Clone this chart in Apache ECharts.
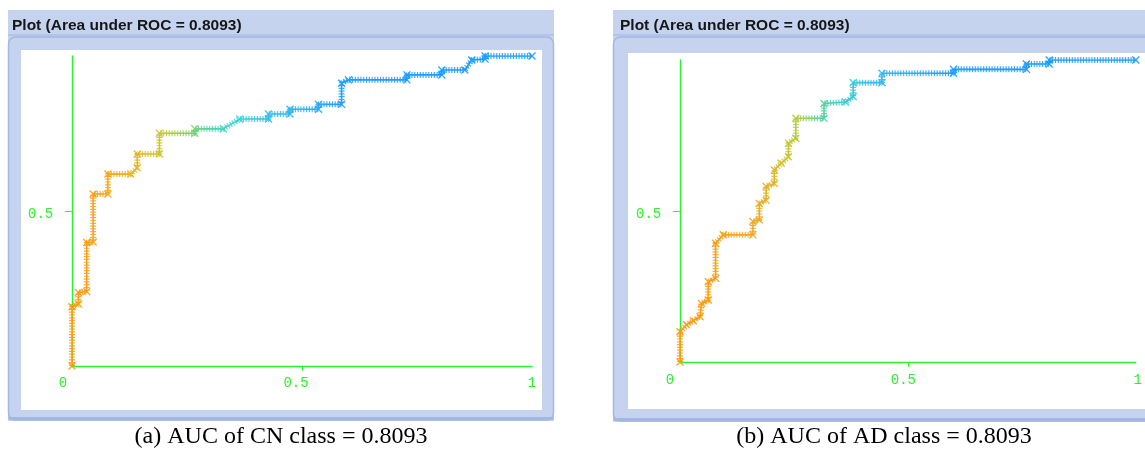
<!DOCTYPE html>
<html>
<head>
<meta charset="utf-8">
<script src="https://cdn.jsdelivr.net/npm/echarts@6/dist/echarts.min.js"></script>
<style>
html,body{margin:0;padding:0;background:#ffffff;}
#c{width:1145px;height:450px;}
</style>
</head>
<body>
<div id="c"></div>
<script>
// ---- data ----
const panelTitle = 'Plot (Area under ROC = 0.8093)';
const captionA = '(a) AUC of CN class = 0.8093';
const captionB = '(b) AUC of AD class = 0.8093';
const tickValues = [0, 0.5, 1];
const tickLabels = ['0', '0.5', '1'];

// ROC curve of CN class (false positive rate, true positive rate)
const fprA = [0,0,0.014,0.014,0.032,0.032,0.046,0.046,0.078,0.078,0.128,0.142,0.142,0.19,0.19,0.267,0.267,0.329,0.365,0.427,0.427,0.474,0.474,0.536,0.536,0.586,0.586,0.601,0.728,0.728,0.804,0.804,0.854,0.869,0.898,0.898,1];
const tprA = [0,0.191,0.2,0.237,0.24,0.398,0.40,0.555,0.555,0.619,0.619,0.64,0.684,0.684,0.751,0.751,0.765,0.765,0.797,0.797,0.813,0.813,0.828,0.828,0.844,0.844,0.912,0.923,0.923,0.939,0.939,0.955,0.955,0.987,0.99,1.0,1];

// ROC curve of AD class
const fprB = [0,0,0.0145,0.029,0.044,0.047,0.062,0.062,0.078,0.078,0.095,0.16,0.16,0.174,0.174,0.189,0.189,0.207,0.207,0.222,0.238,0.238,0.254,0.254,0.316,0.316,0.363,0.38,0.38,0.443,0.443,0.6,0.6,0.76,0.76,0.81,0.81,1];
const tprB = [0,0.10,0.123,0.137,0.15,0.194,0.205,0.266,0.277,0.393,0.421,0.421,0.465,0.47,0.525,0.536,0.581,0.591,0.636,0.658,0.68,0.724,0.741,0.807,0.807,0.856,0.861,0.879,0.925,0.925,0.956,0.956,0.969,0.969,0.987,0.987,1.0,1];

// threshold colour ramps (evenly spaced along FPR 0..1 in steps of 0.05)
const rampA = ['#ff9a10','#f8a018','#f0aa20','#e0b828','#c4c834','#88d060','#50d6a8','#3cd4d4','#38c4e8','#34b8f0','#2eb0f4','#28a6f8','#209cff','#1e9cff','#1c9cff','#1c9cff','#1a9cff','#1a9cff','#1a9cff','#1a9cff','#1a9cff'];
const rampB = ['#ff9a10','#ff9a10','#f8a018','#f0a820','#e0b428','#c0cc34','#60d490','#36d0c8','#34c4e4','#30b8f0','#2cb0f4','#28a6f8','#209cff','#1e9cff','#1c9cff','#1c9cff','#1a9cff','#1a9cff','#1a9cff','#1a9cff','#1a9cff'];

// ---- styling ----
const GREEN = '#2ef02e';
const FRAME = '#c5d3ef';
const FRAME_DARK = '#a3b7e1';
const CROSS = 'path://M0,1.2L1.2,0L5,3.8L8.8,0L10,1.2L6.2,5L10,8.8L8.8,10L5,6.2L1.2,10L0,8.8L3.8,5Z';

function pairs(xs, ys){ return xs.map((x,i)=>[x, ys[i]]); }

function nearestIndex(arr, val){
  let best = -1, bd = 1e9;
  arr.forEach((t,i)=>{ const d = Math.abs(t - val); if (d < bd) { bd = d; best = i; } });
  return bd < 0.05 ? best : -1;
}

// xShifts: horizontal pixel offsets of x labels; yShifts: downward pixel offsets of y labels
function makeAxes(gi, xShifts, yShifts, xMargin, plotHeight){
  const rich = {t: {}};
  const xText = [];
  tickValues.forEach((v,i)=>{
    const dx = xShifts[i];
    rich['sx'+i] = {width: Math.max(0.01, 2*Math.abs(dx))};
    const lab = '{t|' + tickLabels[i] + '}';
    xText.push(dx < 0 ? lab + '{sx'+i+'| }' : (dx > 0 ? '{sx'+i+'| }' + lab : lab));
  });
  // y labels are drawn at the tick value moved by the label's pixel offset
  const yLabelAt = tickValues.map((v,i)=> v - yShifts[i] / plotHeight);
  const fmtX = (val) => { const i = nearestIndex(tickValues, +val); return i < 0 ? '' : xText[i]; };
  const fmtY = (val) => { const i = nearestIndex(yLabelAt, +val); return i < 0 ? '' : tickLabels[i]; };
  const labelFont = {color: GREEN, fontFamily: '"Liberation Mono", "DejaVu Sans Mono", monospace', fontSize: 14};
  return {
    x: {
      type: 'value', gridIndex: gi, min: 0, max: 1,
      axisLine: {show: true, onZero: false, lineStyle: {color: GREEN, width: 1.4}},
      axisTick: {show: true, customValues: [0.5], length: 5, lineStyle: {color: GREEN, width: 1}},
      axisLabel: Object.assign({show: true, customValues: tickValues, margin: xMargin, formatter: fmtX, rich: rich}, labelFont),
      splitLine: {show: false}
    },
    y: {
      type: 'value', gridIndex: gi, min: 0, max: 1,
      axisLine: {show: true, onZero: false, lineStyle: {color: GREEN, width: 1.4}},
      axisTick: {show: true, customValues: [0.5], length: 7, lineStyle: {color: GREEN, width: 1}},
      axisLabel: Object.assign({show: true, hideOverlap: false, showMinLabel: true, showMaxLabel: true,
        customValues: yLabelAt, margin: 44, align: 'left', verticalAlign: 'middle', formatter: fmtY}, labelFont),
      splitLine: {show: false}
    }
  };
}

const axA = makeAxes(0, [-9, -6, 0], [11, 3, -5], 10, 310);
const axB = makeAxes(1, [-10, -4.5, 2], [12, 3, -6], 11, 302);

function curveSeries(gi, data){
  return [
    {
      type: 'line', xAxisIndex: gi, yAxisIndex: gi, data: data,
      symbol: 'none', z: 3,
      lineStyle: {width: 6, type: [1.2, 1.6], opacity: 0.85},
      silent: true, animation: false
    },
    {
      type: 'line', xAxisIndex: gi, yAxisIndex: gi, data: data,
      symbol: CROSS, symbolSize: 8, showSymbol: true, z: 4,
      itemStyle: {opacity: 0.9},
      lineStyle: {width: 1.6},
      silent: true, animation: false
    }
  ];
}

function frame(x, y, w, h, wx, wy, ww, wh){
  return [
    {type: 'rect', z: -10, shape: {x: x, y: y, width: w, height: h}, style: {fill: FRAME}},
    {type: 'rect', z: -9, shape: {x: x, y: y + 24, width: w, height: 2}, style: {fill: '#b3c5ea'}},
    {type: 'rect', z: -8, shape: {x: x + 0.5, y: y + 27, width: w - 1, height: h - 28, r: 7},
      style: {fill: FRAME, stroke: FRAME_DARK, lineWidth: 1.5}},
    {type: 'rect', z: -7, shape: {x: x, y: y + h - 4, width: w, height: 3, r: [0,0,4,4]}, style: {fill: FRAME_DARK}},
    {type: 'rect', z: -6, shape: {x: wx, y: wy, width: ww, height: wh}, style: {fill: '#ffffff'}}
  ];
}

const chart = echarts.init(document.getElementById('c'), null, {renderer: 'canvas'});
chart.setOption({
  backgroundColor: '#ffffff',
  animation: false,
  grid: [
    {left: 72, top: 56, width: 460, height: 310},
    {left: 680, top: 60, width: 458, height: 302}
  ],
  xAxis: [axA.x, axB.x],
  yAxis: [axA.y, axB.y],
  visualMap: [
    {type: 'continuous', show: false, dimension: 0, min: 0, max: 1, seriesIndex: [0, 1], inRange: {color: rampA}},
    {type: 'continuous', show: false, dimension: 0, min: 0, max: 1, seriesIndex: [2, 3], inRange: {color: rampB}}
  ],
  graphic: [].concat(
    frame(8, 10, 546, 411, 21, 50, 521, 360),
    frame(613, 10, 545, 412, 628, 53, 530, 356),
    [
      {type: 'text', z: 5, x: 12, y: 26, style: {text: panelTitle, fill: '#161616', fontFamily: '"Liberation Sans", Arial, sans-serif', fontWeight: 'bold', fontSize: 15.5, verticalAlign: 'middle'}},
      {type: 'text', z: 5, x: 620, y: 26, style: {text: panelTitle, fill: '#161616', fontFamily: '"Liberation Sans", Arial, sans-serif', fontWeight: 'bold', fontSize: 15.5, verticalAlign: 'middle'}},
      {type: 'text', z: 5, x: 281, y: 437, style: {text: captionA, fill: '#000000', fontFamily: '"Liberation Serif", "Times New Roman", serif', fontSize: 24, align: 'center', verticalAlign: 'middle'}},
      {type: 'text', z: 5, x: 884, y: 437, style: {text: captionB, fill: '#000000', fontFamily: '"Liberation Serif", "Times New Roman", serif', fontSize: 24, align: 'center', verticalAlign: 'middle'}}
    ]
  ),
  series: [].concat(curveSeries(0, pairs(fprA, tprA)), curveSeries(1, pairs(fprB, tprB)))
});
</script>
</body>
</html>
